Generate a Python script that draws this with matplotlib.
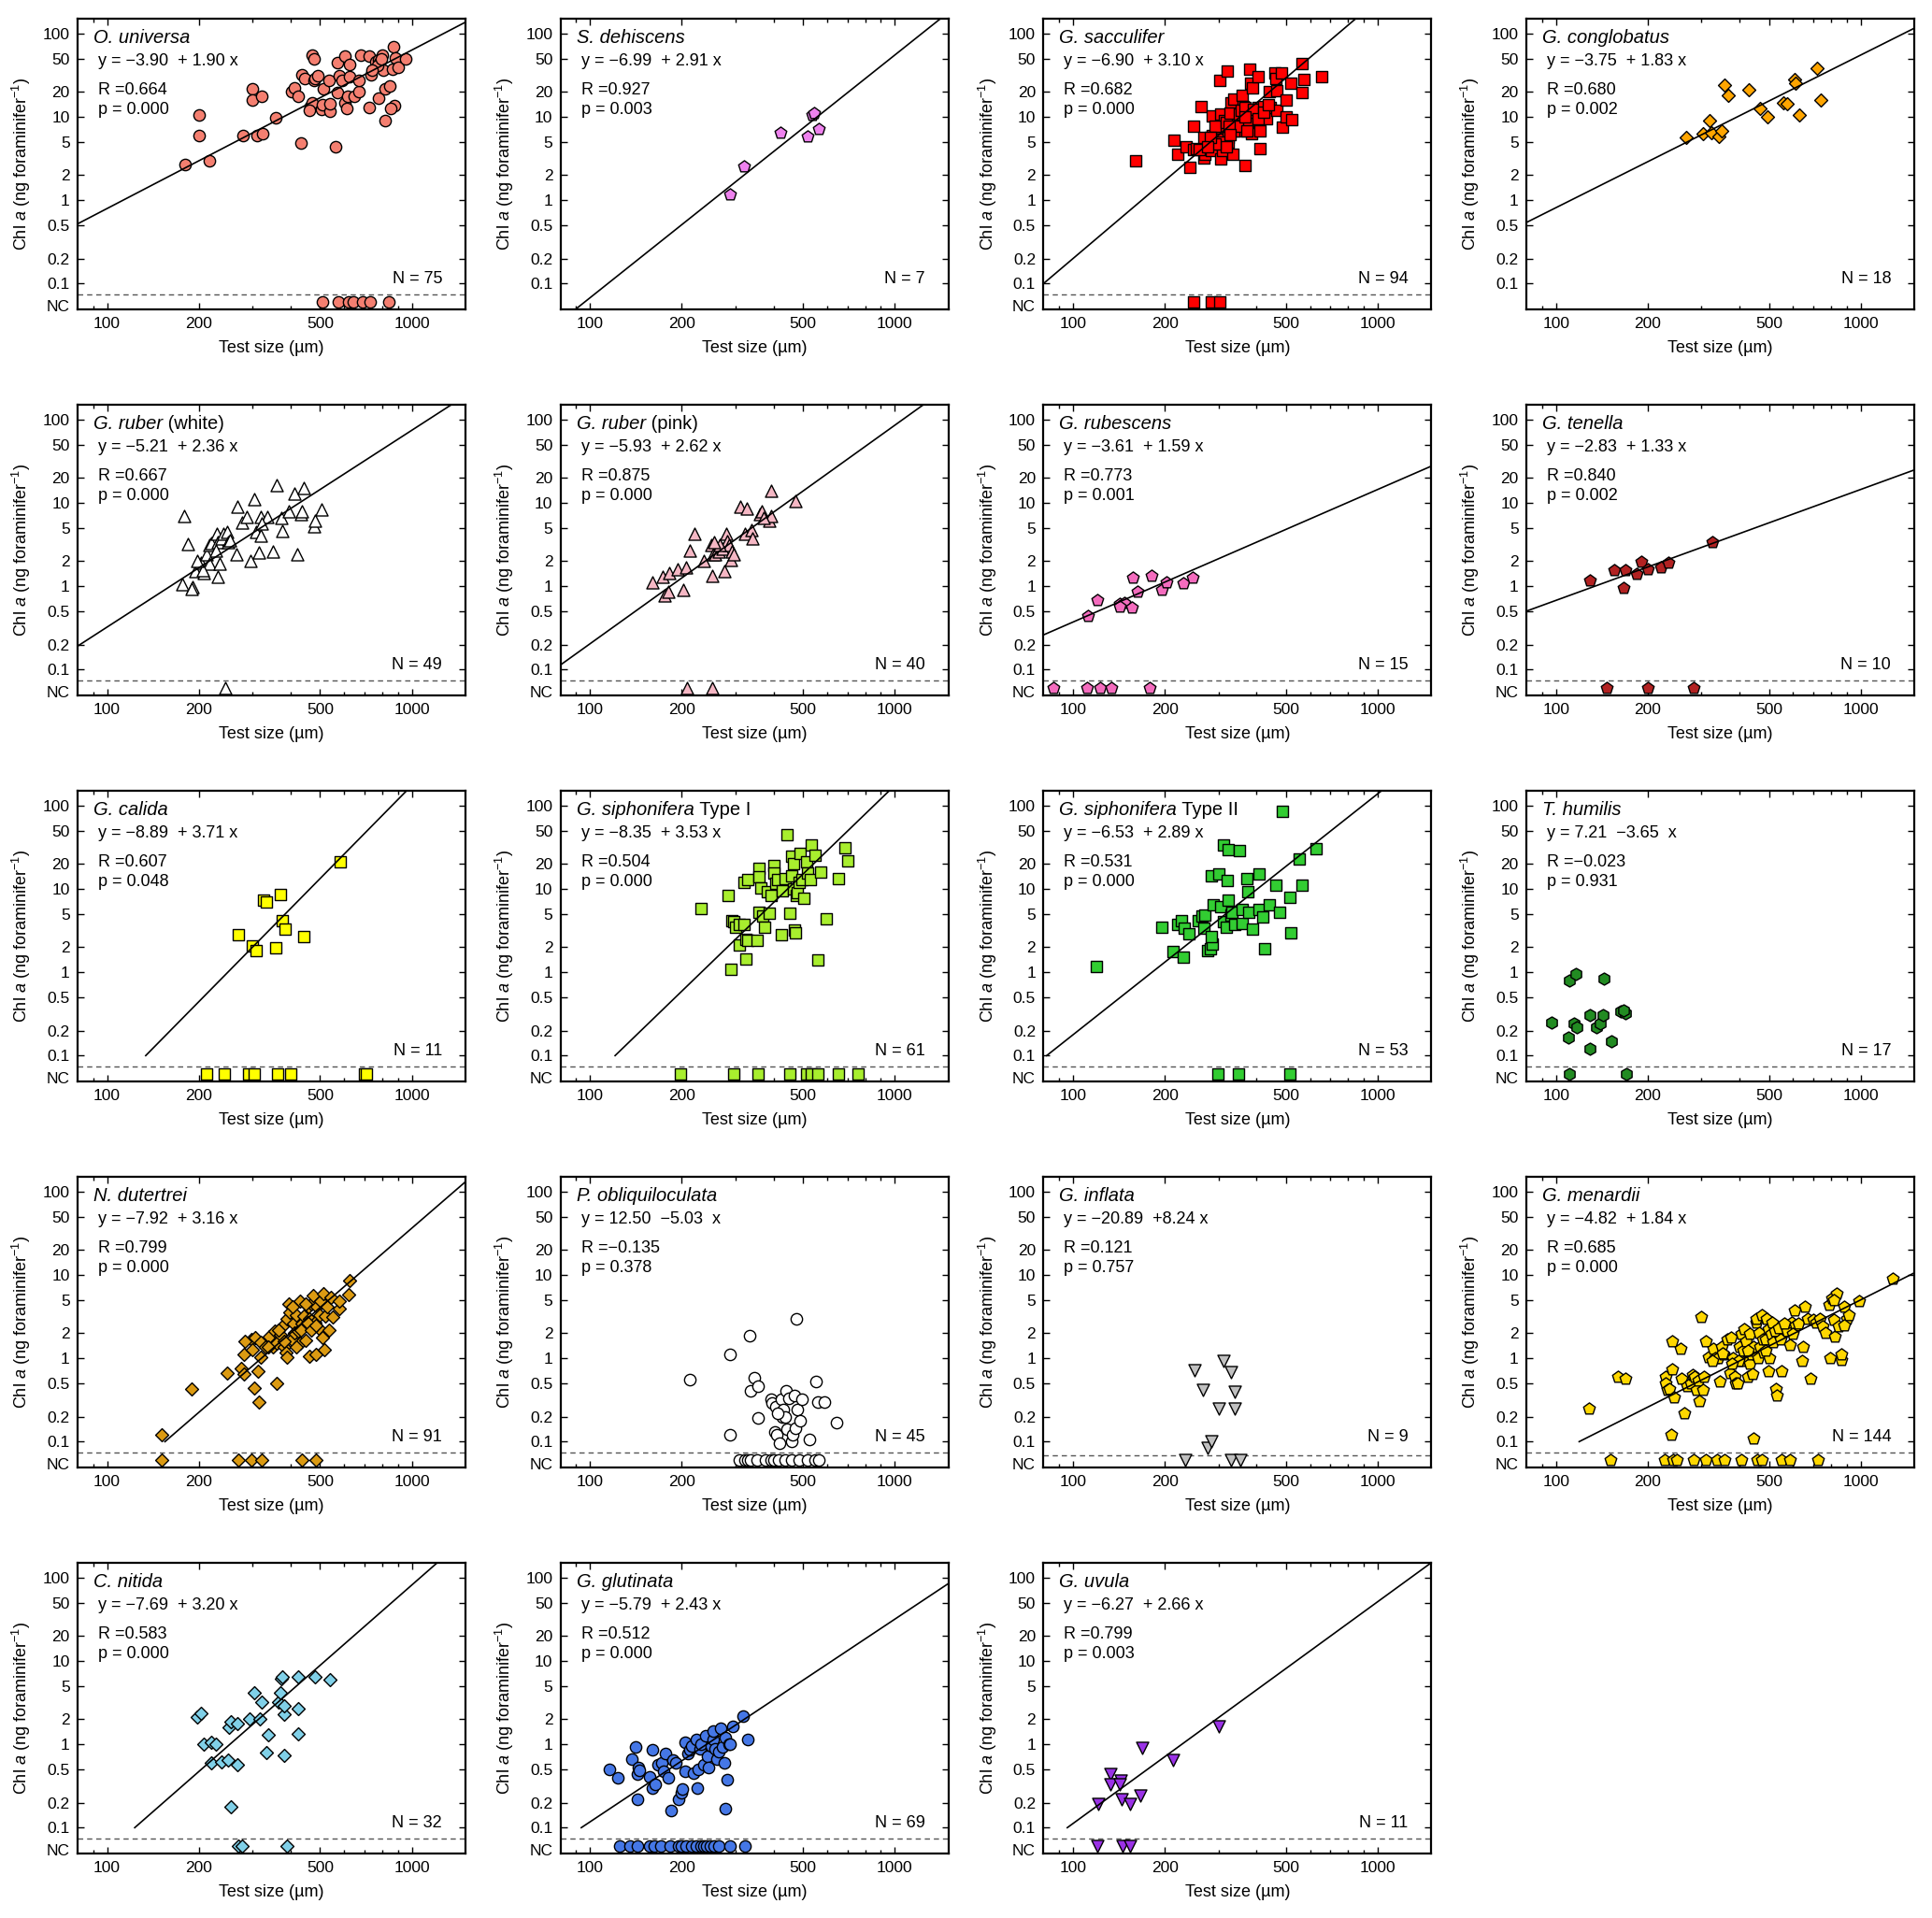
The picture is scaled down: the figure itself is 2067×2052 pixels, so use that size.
import numpy as np
import matplotlib
matplotlib.use("Agg")
import matplotlib.pyplot as plt
from matplotlib.ticker import NullFormatter

plt.rcParams['font.family'] = ['Liberation Sans', 'DejaVu Sans']
plt.rcParams['mathtext.fontset'] = 'custom'
plt.rcParams['mathtext.rm'] = 'Liberation Sans'
plt.rcParams['mathtext.it'] = 'Liberation Sans:italic'
plt.rcParams['mathtext.bf'] = 'Liberation Sans:bold'

# ---- data: (test size um, Chl a ng/foraminifer), NC = not detected ----
universa = [(180, 2.7), (200, 10.6), (200, 6.0), (216, 3.0), (280, 5.9), (300, 21.5), (300, 15.8), (322, 17.4),
            (311, 5.9), (325, 6.3), (357, 9.7), (404, 19.8), (413, 22.3), (424, 17.4), (433, 4.9), (437, 31.5),
            (445, 29), (470, 55), (478, 50), (478, 27), (480, 29), (490, 31), (465, 13.2), (470, 14.8), (460, 12),
            (505, 12.3), (510, 14), (512, 21.5), (534, 27), (570, 45), (570, 19.3), (563, 4.4), (540, 11.8),
            (540, 14.3), (580, 31), (590, 27), (604, 53), (623, 42), (602, 14.6), (612, 12.5), (616, 17.8),
            (623, 30), (645, 17.8), (670, 19.8), (672, 27), (680, 55), (725, 54), (725, 12.8), (735, 32),
            (760, 46), (775, 48), (785, 45), (800, 55), (817, 9), (780, 16.6), (805, 36), (820, 21.5),
            (845, 23.5), (865, 37), (870, 69), (885, 51), (880, 13.5), (850, 12.6), (900, 39), (955, 50),
            (770, 41), (795, 49), (740, 36)]
universa_nc = [508, 572, 619, 643, 689, 728, 841]

dehiscens = [(287, 1.18), (320, 2.56), (421, 6.4), (518, 5.8), (537, 10.5), (542, 11.2), (563, 7.1)]
dehiscens_nc = []

sacculifer = [(161, 3.0), (214, 5.3), (221, 3.6), (235, 4.4), (242, 2.45), (249, 7.7), (248, 4.0), (254, 4.2),
              (264, 13.4), (268, 5.6), (269, 3.2), (270, 3.6), (284, 3.9), (286, 6.0), (286, 10.3), (303, 27),
              (305, 10.9), (304, 7.3), (304, 5.4), (305, 3.1), (310, 3.9), (315, 9), (321, 35), (322, 5.6),
              (323, 5.0), (330, 14.6), (334, 3.6), (338, 16.5), (343, 9), (347, 7.1), (353, 6.8), (360, 18),
              (362, 13.4), (368, 2.6), (372, 10.3), (372, 8.7), (381, 37), (383, 25), (387, 22.5), (386, 6.2),
              (392, 11.5), (405, 30), (405, 13), (407, 8.8), (411, 6.8), (412, 4.1), (430, 9.6), (442, 20),
              (444, 13), (460, 34), (464, 28.5), (466, 20.5), (466, 12.1), (484, 34), (488, 7.6), (502, 16),
              (500, 9.9), (518, 25), (522, 9.2), (563, 43), (566, 19.5), (571, 28), (656, 30),
              (292, 7.8), (318, 8.5), (328, 11), (352, 10.7), (356, 11.9), (368, 12.9), (338, 6.8), (347, 7.8),
              (373, 6.8), (390, 12.2), (423, 13.4), (368, 9.9), (325, 7.8), (307, 5.0), (318, 4.4), (292, 4.7),
              (282, 5.6), (260, 4.0), (276, 4.4), (328, 6.1), (405, 9.5), (423, 11.3), (438, 14.1)]
sacculifer_nc = [249, 284, 303]

conglobatus = [(268, 5.7), (303, 6.3), (320, 8.9), (323, 6.4), (342, 5.8), (351, 6.7), (358, 24), (368, 18),
               (430, 21), (466, 12.6), (493, 10.1), (558, 14.6), (572, 14.2), (605, 28), (610, 25.5),
               (630, 10.6), (717, 38), (738, 15.7)]
conglobatus_nc = []

ruber_white = [(179, 7.0), (184, 3.2), (177, 1.07), (191, 0.97), (190, 0.92), (195, 1.5), (203, 1.9), (208, 1.45),
               (212, 2.4), (216, 3.1), (216, 1.85), (220, 3.3), (229, 4.3), (231, 1.3), (231, 3.4), (237, 3.7),
               (240, 4.3), (234, 1.85), (247, 4.5), (249, 3.4), (253, 3.6), (266, 2.4), (267, 9.0), (277, 5.8),
               (287, 6.8), (296, 2.0), (303, 11), (309, 4.5), (314, 2.55), (319, 6.7), (320, 4.0), (336, 6.7),
               (350, 2.6), (360, 16.5), (376, 4.6), (372, 6.6), (394, 8.0), (412, 12.9), (422, 2.4), (432, 7.4),
               (436, 7.9), (443, 15), (479, 5.2), (481, 6.1), (505, 8.3), (206, 1.55), (227, 2.7), (197, 2.0),
               (322, 5.6)]
ruber_white_nc = [244]

ruber_pink = [(160, 1.1), (173, 1.3), (176, 0.78), (180, 0.87), (182, 1.45), (194, 1.6), (202, 0.9), (206, 1.7),
              (212, 2.7), (220, 4.3), (236, 2.0), (251, 1.35), (250, 3.1), (253, 2.4), (258, 2.4), (264, 2.6),
              (272, 2.85), (275, 1.5), (280, 4.3), (282, 3.5), (285, 3.1), (290, 2.05), (292, 2.6), (297, 2.4),
              (312, 9.0), (328, 8.6), (323, 4.3), (338, 4.7), (342, 3.7), (362, 7.3), (367, 7.9), (388, 6.1),
              (392, 7.0), (393, 14), (473, 10.5), (266, 3.1), (256, 3.4), (372, 6.6)]
ruber_pink_nc = [208, 251]

rubescens = [(112, 0.44), (120, 0.69), (142, 0.62), (148, 0.63), (156, 0.55), (157, 1.25), (163, 0.87),
             (181, 1.33), (195, 0.9), (203, 1.1), (230, 1.08), (247, 1.27), (142, 0.57)]
rubescens_nc = [86, 111, 123, 134, 178]

tenella = [(129, 1.17), (155, 1.55), (169, 1.55), (167, 0.95), (184, 1.42), (191, 1.96), (200, 1.6),
           (221, 1.68), (234, 1.9), (325, 3.4)]
tenella_nc = [147, 200, 283]

calida = [(270, 2.85), (300, 2.05), (309, 1.8), (327, 7.4), (334, 7.0), (357, 1.95), (370, 8.5), (376, 4.1),
          (383, 3.3), (441, 2.7), (584, 21)]
calida_nc = [212, 242, 292, 303, 362, 400, 700, 710]

siph1 = [(232, 5.8), (283, 8.3), (289, 1.09), (293, 4.1), (297, 4.0), (301, 3.5), (310, 2.1), (310, 3.7),
         (321, 12), (325, 1.45), (325, 2.5), (330, 2.4), (330, 13), (320, 3.7), (354, 2.4), (358, 5.2),
         (358, 17.5), (358, 14), (364, 10.2), (369, 4.7), (374, 3.5), (382, 9.3), (387, 5.1), (394, 8.3),
         (400, 19), (402, 15.5), (406, 11.8), (413, 12.8), (424, 2.85), (428, 9.5), (438, 13.2), (442, 45),
         (452, 5.1), (458, 14.3), (460, 24.5), (465, 20), (465, 9.9), (469, 3.2), (471, 3.0), (475, 8.3),
         (480, 9), (486, 12), (490, 26.5), (497, 13), (503, 7.7), (512, 21), (517, 15.5), (527, 12.8),
         (532, 34), (548, 25), (560, 1.42), (573, 16), (594, 4.4), (654, 13.2), (685, 31), (700, 21.5)]
siph1_nc = [198, 296, 357, 453, 512, 532, 558, 655, 760]

siph2 = [(119, 1.16), (195, 3.5), (213, 1.76), (220, 3.7), (227, 4.1), (230, 1.5), (232, 3.4), (240, 2.9),
         (258, 4.2), (265, 4.7), (270, 4.9), (268, 3.4), (277, 1.8), (282, 1.9), (287, 2.2), (285, 2.7),
         (285, 14.3), (289, 6.4), (300, 15), (305, 6.1), (312, 4.0), (312, 33.5), (319, 3.5), (322, 7.3),
         (322, 29.6), (320, 12.6), (330, 4.9), (333, 5.3), (339, 3.7), (352, 29), (358, 3.8), (360, 5.6),
         (372, 13.4), (374, 9.3), (376, 5.3), (387, 3.3), (408, 15), (408, 5.6), (420, 4.6), (426, 1.9),
         (440, 6.4), (464, 11), (475, 5.2), (487, 85), (515, 8.0), (518, 3.0), (551, 23), (565, 11),
         (626, 30.5)]
siph2_nc = [298, 350, 515]

humilis = [(97, 0.25), (110, 0.165), (111, 0.8), (116, 0.95), (115, 0.24), (117, 0.22), (129, 0.31),
           (129, 0.12), (136, 0.22), (140, 0.24), (144, 0.84), (143, 0.31), (152, 0.15), (163, 0.34),
           (169, 0.32), (167, 0.35)]
humilis_nc = [111, 170]

dutertrei = [(151, 0.12), (189, 0.43), (248, 0.66), (276, 0.76), (281, 1.12), (281, 0.65), (305, 0.44),
             (312, 0.7), (315, 0.3), (320, 1.03), (297, 1.7), (307, 1.78), (319, 1.55), (330, 1.38), (341, 1.8),
             (349, 1.37), (354, 2.1), (360, 0.5), (361, 1.5), (371, 1.9), (375, 2.4), (380, 1.37), (386, 1.16),
             (390, 1.03), (390, 3.0), (394, 4.5), (398, 3.6), (402, 1.7), (409, 2.6), (413, 2.0), (417, 3.3),
             (424, 2.1), (431, 4.9), (431, 1.5), (436, 2.6), (443, 3.2), (449, 1.65), (458, 4.2), (460, 1.07),
             (462, 3.0), (469, 4.5), (475, 5.7), (480, 2.7), (484, 1.12), (488, 4.2), (496, 2.3), (498, 3.3),
             (503, 4.8), (508, 1.75), (513, 6.0), (518, 1.25), (520, 3.2), (528, 4.2), (533, 2.2), (541, 5.4),
             (578, 3.9), (578, 4.9), (620, 5.8), (624, 8.5), (284, 1.6), (300, 1.25), (337, 1.37), (365, 2.2),
             (407, 4.2), (433, 2.2), (454, 2.7), (417, 1.37), (380, 1.6), (469, 2.2), (550, 3.1), (484, 2.5),
             (447, 4.5)]
dutertrei_nc = [151, 270, 297, 322, 436, 484]

obliquiloculata = [(213, 0.56), (287, 0.12), (287, 1.12), (335, 1.85), (337, 0.41), (345, 0.58), (355, 0.46),
                   (355, 0.19), (392, 0.32), (397, 0.29), (405, 0.13), (406, 0.26), (410, 0.12), (420, 0.095),
                   (425, 0.32), (428, 0.2), (432, 0.24), (440, 0.41), (444, 0.14), (448, 0.33), (458, 0.1),
                   (462, 0.12), (469, 0.36), (473, 0.145), (477, 2.95), (480, 0.24), (490, 0.18), (495, 0.32),
                   (525, 0.105), (550, 0.53), (560, 0.3), (586, 0.3), (645, 0.17), (437, 0.2), (413, 0.22)]
obliquiloculata_nc = [310, 322, 330, 337, 354, 376, 392, 402, 416, 436, 458, 484, 518, 549, 565]

inflata = [(251, 0.72), (267, 0.42), (302, 0.25), (312, 0.92), (330, 0.69), (339, 0.40), (339, 0.25),
           (276, 0.085), (284, 0.1)]
inflata_nc = [233, 330, 355]

menardii = [(128, 0.25), (160, 0.6), (169, 0.57), (229, 0.6), (229, 0.5), (233, 0.42), (236, 0.43), (241, 0.73),
            (241, 1.6), (244, 0.34), (239, 0.12), (256, 1.3), (258, 0.57), (264, 0.22), (270, 0.46), (277, 0.5),
            (281, 0.63), (285, 0.6), (290, 0.42), (294, 0.54), (296, 0.31), (300, 3.1), (303, 0.42), (305, 0.6),
            (311, 1.6), (318, 1.03), (329, 1.3), (333, 1.0), (341, 1.0), (344, 0.52), (350, 1.37), (356, 1.1),
            (364, 1.7), (372, 0.67), (376, 1.75), (380, 1.0), (385, 0.6), (389, 0.5), (394, 0.5), (401, 1.37),
            (406, 1.95), (406, 0.92), (411, 1.24), (415, 2.25), (421, 1.6), (425, 0.6), (428, 0.95), (433, 1.95),
            (433, 0.85), (440, 1.1), (443, 0.65), (446, 1.37), (453, 2.7), (453, 3.0), (460, 1.0), (465, 2.0),
            (469, 1.37), (475, 3.3), (478, 1.7), (481, 1.16), (487, 1.7), (490, 3.0), (497, 2.25), (497, 0.7),
            (502, 1.0), (507, 1.95), (512, 2.7), (517, 1.55), (523, 2.1), (527, 0.43), (532, 0.36), (538, 2.3),
            (545, 1.7), (550, 0.7), (575, 2.1), (587, 1.45), (595, 2.7), (605, 3.7), (612, 2.5), (626, 2.6),
            (640, 0.92), (648, 1.37), (654, 4.2), (668, 3.0), (684, 0.57), (700, 2.9), (716, 2.7), (733, 3.0),
            (750, 2.4), (768, 2.0), (786, 4.4), (794, 1.0), (804, 5.2), (814, 2.9), (824, 1.8), (843, 2.4),
            (863, 0.95), (863, 1.1), (883, 4.2), (904, 3.0), (912, 3.3), (990, 4.8), (1275, 8.9), (883, 2.5),
            (834, 5.9), (814, 5.0), (563, 2.6), (487, 1.24), (425, 1.24), (397, 0.92), (378, 0.85), (353, 1.15),
            (326, 0.92), (600, 1.95), (446, 0.11)]
menardii_nc = [151, 227, 243, 249, 283, 310, 337, 357, 407, 456, 474, 550, 585, 724]

nitida = [(197, 2.1), (203, 2.35), (207, 1.0), (220, 0.6), (220, 1.05), (227, 1.0), (237, 0.62), (249, 0.65),
          (251, 1.6), (255, 1.85), (254, 0.18), (268, 0.57), (268, 1.75), (293, 2.0), (303, 4.2), (318, 2.0),
          (322, 3.2), (337, 1.3), (334, 0.8), (364, 3.2), (370, 4.1), (372, 6.1), (376, 6.5), (380, 2.3),
          (381, 0.74), (382, 2.9), (423, 6.5), (423, 2.7), (423, 1.35), (482, 6.5), (540, 5.9)]
nitida_nc = [270, 278, 388]

glutinata = [(116, 0.5), (123, 0.4), (137, 0.66), (141, 0.92), (143, 0.44), (144, 0.52), (145, 0.49), (143, 0.22),
             (157, 0.41), (160, 0.3), (160, 0.86), (164, 0.33), (167, 0.57), (172, 0.6), (174, 0.48), (177, 0.78),
             (181, 0.4), (184, 0.16), (187, 0.65), (191, 0.6), (195, 0.22), (199, 0.26), (201, 0.29), (205, 1.05),
             (205, 0.48), (209, 0.77), (213, 0.85), (216, 0.96), (219, 0.45), (223, 1.14), (225, 0.3), (227, 0.5),
             (230, 0.88), (232, 1.0), (237, 0.57), (240, 1.25), (243, 0.72), (245, 0.52), (250, 0.96), (254, 1.14),
             (254, 1.45), (258, 0.88), (261, 0.66), (264, 0.81), (268, 1.55), (272, 0.92), (275, 0.6), (278, 1.2),
             (278, 0.17), (281, 0.38), (285, 1.0), (287, 1.0), (295, 1.65), (318, 2.2), (329, 1.14)]
glutinata_nc = [125, 135, 143, 157, 163, 171, 183, 195, 200, 207, 215, 223, 231, 236, 242, 248, 256, 264, 287, 322]

uvula = [(121, 0.19), (133, 0.44), (133, 0.33), (143, 0.37), (142, 0.33), (144, 0.22), (154, 0.19), (166, 0.24),
         (169, 0.91), (213, 0.65), (302, 1.65)]
uvula_nc = [120, 145, 154]

# italic species name, plain suffix
species = ['O. universa', 'S. dehiscens', 'G. sacculifer', 'G. conglobatus', 'G. ruber', 'G. ruber',
           'G. rubescens', 'G. tenella', 'G. calida', 'G. siphonifera', 'G. siphonifera', 'T. humilis',
           'N. dutertrei', 'P. obliquiloculata', 'G. inflata', 'G. menardii', 'C. nitida', 'G. glutinata',
           'G. uvula']
species_suffix = ['', '', '', '', ' (white)', ' (pink)', '', '', '', ' Type I', ' Type II', '', '', '', '', '',
                  '', '', '']
points = [universa, dehiscens, sacculifer, conglobatus, ruber_white, ruber_pink, rubescens, tenella,
          calida, siph1, siph2, humilis, dutertrei, obliquiloculata, inflata, menardii, nitida, glutinata, uvula]
nc_points = [universa_nc, dehiscens_nc, sacculifer_nc, conglobatus_nc, ruber_white_nc, ruber_pink_nc,
             rubescens_nc, tenella_nc, calida_nc, siph1_nc, siph2_nc, humilis_nc, dutertrei_nc,
             obliquiloculata_nc, inflata_nc, menardii_nc, nitida_nc, glutinata_nc, uvula_nc]
intercepts = [-3.90, -6.99, -6.90, -3.75, -5.21, -5.93, -3.61, -2.83, -8.89, -8.35, -6.53, 7.21, -7.92,
              12.50, -20.89, -4.82, -7.69, -5.79, -6.27]
slopes = [1.90, 2.91, 3.10, 1.83, 2.36, 2.62, 1.59, 1.33, 3.71, 3.53, 2.89, -3.65, 3.16, -5.03, 8.24, 1.84,
          3.20, 2.43, 2.66]
eq_text = ['y = −3.90  + 1.90 x', 'y = −6.99  + 2.91 x', 'y = −6.90  + 3.10 x', 'y = −3.75  + 1.83 x',
           'y = −5.21  + 2.36 x', 'y = −5.93  + 2.62 x', 'y = −3.61  + 1.59 x', 'y = −2.83  + 1.33 x',
           'y = −8.89  + 3.71 x', 'y = −8.35  + 3.53 x', 'y = −6.53  + 2.89 x', 'y = 7.21  −3.65  x',
           'y = −7.92  + 3.16 x', 'y = 12.50  −5.03  x', 'y = −20.89  +8.24 x', 'y = −4.82  + 1.84 x',
           'y = −7.69  + 3.20 x', 'y = −5.79  + 2.43 x', 'y = −6.27  + 2.66 x']
r_values = ['0.664', '0.927', '0.682', '0.680', '0.667', '0.875', '0.773', '0.840', '0.607', '0.504', '0.531',
            '−0.023', '0.799', '−0.135', '0.121', '0.685', '0.583', '0.512', '0.799']
p_values = ['0.000', '0.003', '0.000', '0.002', '0.000', '0.000', '0.001', '0.002', '0.048', '0.000', '0.000',
            '0.931', '0.000', '0.378', '0.757', '0.000', '0.000', '0.000', '0.003']
n_values = [75, 7, 94, 18, 49, 40, 15, 10, 11, 61, 53, 17, 91, 45, 9, 144, 32, 69, 11]
significant = [True, True, True, True, True, True, True, True, True, True, True, False, True, False, False,
               True, True, True, True]

markers = ['o', 'p', 's', 'D', '^', '^', 'p', 'p', 's', 's', 's', 'h', 'D', 'o', 'v', 'p', 'D', 'o', 'v']
colors = ['#F47F70', '#EE82EE', '#FF0000', '#FFA500', '#FFFFFF', '#F5B7C4', '#F46CBE', '#B22222',
          '#FFFF00', '#A8EE2E', '#32CD32', '#228B22', '#DB9A12', '#FFFFFF', '#C0C0C0', '#FFD700',
          '#80D0E8', '#4577E6', '#9A32E6']
marker_area = {'o': 78, 's': 66, 'D': 50, '^': 88, 'v': 88, 'p': 90, 'h': 88}

NC_LEVEL = 0.06
DASH_LEVEL = 0.075
dash_override = {14: 0.068}

W, H = 2067, 2052
fig = plt.figure(figsize=(W / 100, H / 100), dpi=100)

for k in range(len(species)):
    row, col = divmod(k, 4)
    left = 83 + 516.7 * col
    top = 20 + 413 * row
    ax = fig.add_axes([left / W, 1 - (top + 311) / H, 415 / W, 311 / H])
    ax.set_xscale('log')
    ax.set_yscale('log')
    ax.set_xlim(80, 1500)
    ax.set_ylim(0.049, 150)

    has_nc = len(nc_points[k]) > 0
    xs, ys = zip(*points[k])
    m = markers[k]
    ax.scatter(xs, ys, s=marker_area[m], marker=m, facecolor=colors[k], edgecolor='black',
               linewidths=1.0, zorder=2)
    if has_nc:
        ax.scatter(nc_points[k], [NC_LEVEL] * len(nc_points[k]), s=marker_area[m], marker=m,
                   facecolor=colors[k], edgecolor='black', linewidths=1.0, zorder=2)
        ax.axhline(dash_override.get(k, DASH_LEVEL), color='#555555', lw=1.0, ls=(0, (4, 3)), zorder=1)

    if significant[k]:
        a, b = intercepts[k], slopes[k]
        x0 = 80
        if has_nc:
            x0 = max(80, 10 ** ((-1 - a) / b))
        lx = np.array([x0, 1500])
        ax.plot(lx, 10 ** (a + b * np.log10(lx)), color='black', lw=1.2, zorder=3)

    # ticks
    ax.set_xticks([100, 200, 500, 1000])
    ax.set_xticklabels(['100', '200', '500', '1000'])
    ax.set_xticks([90, 300, 400, 600, 700, 800, 900], minor=True)
    ax.xaxis.set_minor_formatter(NullFormatter())
    yt = [0.1, 0.2, 0.5, 1, 2, 5, 10, 20, 50, 100]
    ytl = ['0.1', '0.2', '0.5', '1', '2', '5', '10', '20', '50', '100']
    if has_nc:
        yt = [0.054] + yt
        ytl = ['NC'] + ytl
    ax.set_yticks(yt)
    ax.set_yticklabels(ytl)
    ax.yaxis.set_minor_locator(matplotlib.ticker.NullLocator())
    ax.tick_params(which='both', direction='in', top=True, right=True, labelsize=12.5, pad=6, width=1.0)
    ax.tick_params(which='major', length=5)
    ax.tick_params(which='minor', length=3)
    if has_nc:
        t = ax.yaxis.get_major_ticks()[0]
        t.tick1line.set_visible(False)
        t.tick2line.set_visible(False)
    for sp in ax.spines.values():
        sp.set_linewidth(1.6)

    ax.set_xlabel('Test size (µm)', fontsize=13)
    ax.set_ylabel('Chl $\\it{a}$ (ng foraminifer$^{-1}$)', fontsize=13)
    ax.xaxis.set_label_coords(0.5, -0.105)
    ax.yaxis.set_label_coords(-0.115, 0.5)

    name = ax.text(0.041, 0.902, species[k], transform=ax.transAxes, fontsize=14.5, fontstyle='italic',
                   ha='left', va='bottom')
    if species_suffix[k]:
        ax.annotate(species_suffix[k], xy=(1, 0), xycoords=name, fontsize=14.5, ha='left', va='bottom')
    ax.text(0.053, 0.855, eq_text[k], transform=ax.transAxes, fontsize=13, ha='left', va='center')
    ax.text(0.053, 0.753, 'R =' + r_values[k], transform=ax.transAxes, fontsize=13, ha='left', va='center')
    ax.text(0.053, 0.686, 'p = ' + p_values[k], transform=ax.transAxes, fontsize=13, ha='left', va='center')
    ax.text(0.94, 0.104, 'N = %d' % n_values[k], transform=ax.transAxes, fontsize=13, ha='right', va='center')

fig.savefig('out.png', dpi=100)
